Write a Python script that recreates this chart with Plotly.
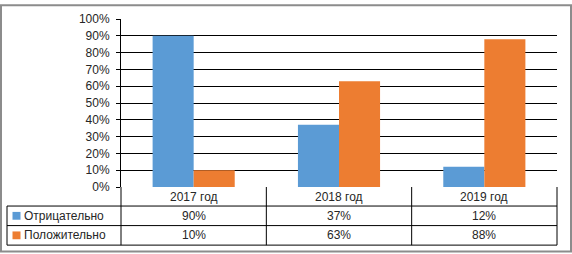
import plotly.graph_objects as go

categories = ["2017 год", "2018 год", "2019 год"]
series_names = ["Отрицательно", "Положительно"]
negative = [0.90, 0.37, 0.12]
positive = [0.10, 0.63, 0.88]
colors = ["#5B9BD5", "#ED7D31"]
tick_vals = [0, 0.1, 0.2, 0.3, 0.4, 0.5, 0.6, 0.7, 0.8, 0.9, 1.0]

W, H = 572, 254
L, R, T, B = 121, 15, 15, 67
PW = W - L - R
PH = H - T - B
FONT = "Liberation Sans"
TXT = "#262626"
FS = 12


def px(x):
    return (x - L) / PW


def py(y):
    return (H - B - y) / PH


fig = go.Figure()
for name, vals, col in zip(series_names, [negative, positive], colors):
    fig.add_bar(x=categories, y=vals, name=name, marker_color=col,
                marker_line_width=0, showlegend=False, hoverinfo="skip")

shapes = []
annotations = []
# outer border
shapes.append(dict(type="rect", xref="paper", yref="paper",
                   x0=px(1), x1=px(571), y0=py(253), y1=py(1),
                   line=dict(color="#8c8c8c", width=2), layer="above"))
# table geometry
row_lines = [206.5, 226.5, 246.5]
col_lines = [121, 121 + PW / 3, 121 + 2 * PW / 3, 121 + PW]
for y in row_lines:
    shapes.append(dict(type="line", xref="paper", yref="paper",
                       x0=px(7), x1=px(121 + PW), y0=py(y), y1=py(y),
                       line=dict(color="black", width=1)))
for x in col_lines:
    shapes.append(dict(type="line", xref="paper", yref="paper",
                       x0=px(x), x1=px(x), y0=py(187), y1=py(246.5),
                       line=dict(color="black", width=1)))
shapes.append(dict(type="line", xref="paper", yref="paper",
                   x0=px(7), x1=px(7), y0=py(206.5), y1=py(246.5),
                   line=dict(color="black", width=1)))

# header row
for c in categories:
    annotations.append(dict(x=c, xref="x", yref="paper", y=py(197), text=c,
                            showarrow=False, font=dict(family=FONT, size=FS, color=TXT),
                            xanchor="center", yanchor="middle"))
row_centers = [216.5, 236.5]
for name, vals, col, yc in zip(series_names, [negative, positive], colors, row_centers):
    shapes.append(dict(type="rect", xref="paper", yref="paper",
                       x0=px(12.5), x1=px(20.5), y0=py(yc + 4), y1=py(yc - 4),
                       fillcolor=col, line=dict(width=0)))
    annotations.append(dict(x=px(22), xref="paper", yref="paper", y=py(yc), text=name,
                            showarrow=False, font=dict(family=FONT, size=FS, color=TXT),
                            xanchor="left", yanchor="middle"))
    for c, v in zip(categories, vals):
        annotations.append(dict(x=c, xref="x", yref="paper", y=py(yc),
                                text=f"{round(v * 100)}%", showarrow=False,
                                font=dict(family=FONT, size=FS, color=TXT),
                                xanchor="center", yanchor="middle"))

fig.update_layout(
    width=W, height=H,
    margin=dict(l=L, r=R, t=T, b=B, pad=0),
    paper_bgcolor="white", plot_bgcolor="white",
    barmode="group", bargap=0.435, bargroupgap=0,
    shapes=shapes, annotations=annotations,
    font=dict(family=FONT, size=FS, color=TXT),
)
fig.update_xaxes(showticklabels=False, showgrid=False, showline=False, ticks="",
                 zeroline=False)
fig.update_yaxes(range=[0, 1], tickvals=tick_vals, tickformat=".0%",
                 showgrid=True, gridcolor="black", gridwidth=1,
                 showline=True, linecolor="black", linewidth=1,
                 ticks="outside", ticklen=4, tickcolor="black", tickwidth=1,
                 zeroline=False, ticklabelstandoff=4,
                 tickfont=dict(family=FONT, size=FS, color=TXT))

fig.write_html("out.html", config={"displayModeBar": False},
               post_script="document.body.style.margin='0';document.body.style.padding='0';")
